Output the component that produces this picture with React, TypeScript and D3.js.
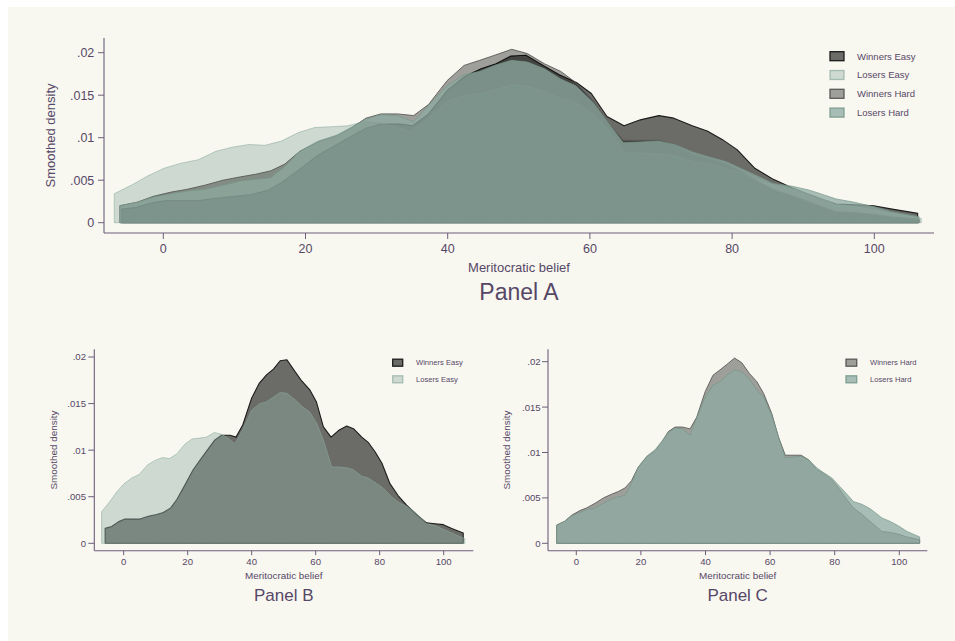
import React, { useEffect } from "react";
import * as d3 from "d3";

// ---- data ----
const winnersEasyX = [-5.8, -3.75, -1.7, 0.4, 2.5, 5.1, 7.7, 10.3, 12.4, 14.7, 16.6, 19.2, 21.7, 23.8, 25.9, 28.5, 30.6, 33.2, 35.1, 37.2, 40.0, 42.4, 44.7, 46.8, 48.9, 51.0, 53.6, 55.7, 58.1, 60.2, 62.4, 64.8, 67.1, 69.7, 71.8, 74.4, 76.5, 78.6, 80.7, 83.2, 85.8, 88.4, 91.5, 94.6, 97.3, 99.9, 102.5, 106.1];
const winnersEasyY = [0.0016, 0.0018, 0.0023, 0.0026, 0.0026, 0.0026, 0.0029, 0.0031, 0.0033, 0.0038, 0.0047, 0.0063, 0.0079, 0.0089, 0.0099, 0.0111, 0.0116, 0.0116, 0.0114, 0.0127, 0.0156, 0.0172, 0.0181, 0.0187, 0.0196, 0.0197, 0.0184, 0.0174, 0.0165, 0.0152, 0.0125, 0.0114, 0.0121, 0.0126, 0.0123, 0.0114, 0.0108, 0.0098, 0.0086, 0.0064, 0.0051, 0.0041, 0.0031, 0.0022, 0.0021, 0.0020, 0.0016, 0.0011];

const losersEasyX = [-6.9, -4.3, -2.2, 0.1, 2.5, 4.9, 7.4, 9.8, 12.1, 14.3, 16.6, 19.0, 21.3, 23.8, 25.9, 28.3, 30.6, 32.5, 34.8, 37.2, 40.0, 42.6, 44.7, 46.8, 48.9, 51.0, 53.6, 55.7, 58.1, 60.3, 62.4, 65.0, 67.0, 69.7, 71.8, 74.4, 76.5, 79.1, 81.2, 83.7, 86.3, 88.9, 91.5, 94.6, 97.3, 99.9, 102.5, 106.6];
const losersEasyY = [0.0034, 0.0045, 0.0055, 0.0064, 0.0070, 0.0074, 0.0084, 0.0089, 0.0092, 0.0091, 0.0096, 0.0106, 0.0112, 0.0113, 0.0114, 0.0119, 0.0117, 0.0113, 0.0107, 0.0122, 0.0143, 0.0150, 0.0152, 0.0157, 0.0162, 0.0161, 0.0154, 0.0147, 0.0141, 0.0129, 0.0111, 0.0082, 0.0082, 0.0081, 0.0079, 0.0072, 0.0070, 0.0064, 0.0059, 0.0050, 0.0043, 0.0039, 0.0032, 0.0021, 0.0019, 0.0015, 0.0011, 0.0005];

const hardX = [-6.1, -3.7, -1.4, 1.1, 3.2, 5.8, 8.4, 10.9, 13.0, 15.1, 17.1, 19.2, 21.8, 24.4, 26.4, 28.5, 30.6, 32.9, 35.2, 37.3, 39.9, 42.3, 44.5, 46.6, 49.0, 51.2, 53.6, 55.9, 58.0, 60.5, 62.6, 64.7, 67.3, 69.6, 71.9, 74.5, 76.5, 79.1, 81.2, 83.8, 85.8, 88.4, 91.0, 94.6, 97.2, 99.8, 102.4, 106.3];
const winnersHardY = [0.0020, 0.0024, 0.0031, 0.0036, 0.0039, 0.0044, 0.0050, 0.0054, 0.0057, 0.0061, 0.0069, 0.0084, 0.0095, 0.0102, 0.0111, 0.0123, 0.0128, 0.0128, 0.0126, 0.0139, 0.0167, 0.0185, 0.0191, 0.0197, 0.0204, 0.0199, 0.0187, 0.0178, 0.0165, 0.0143, 0.0117, 0.0097, 0.0097, 0.0097, 0.0092, 0.0081, 0.0077, 0.0070, 0.0061, 0.0048, 0.0039, 0.0032, 0.0024, 0.0013, 0.0012, 0.0010, 0.0007, 0.0004];
const losersHardY = [0.0020, 0.0024, 0.0030, 0.0034, 0.0037, 0.0039, 0.0044, 0.0049, 0.0051, 0.0053, 0.0066, 0.0084, 0.0096, 0.0103, 0.0112, 0.0122, 0.0127, 0.0126, 0.0119, 0.0138, 0.0161, 0.0174, 0.0178, 0.0185, 0.0191, 0.0189, 0.0181, 0.0169, 0.0161, 0.0141, 0.0117, 0.0094, 0.0095, 0.0096, 0.0092, 0.0083, 0.0078, 0.0072, 0.0064, 0.0054, 0.0046, 0.0043, 0.0038, 0.0028, 0.0024, 0.0019, 0.0013, 0.0007];

const seriesNames = ["Winners Easy", "Losers Easy", "Winners Hard", "Losers Hard"];
const yTickValues = [0, 0.005, 0.01, 0.015, 0.02];
const yTickLabels = ["0", ".005", ".01", ".015", ".02"];
const xTickValues = [0, 20, 40, 60, 80, 100];
const xTitle = "Meritocratic belief";
const yTitle = "Smoothed density";
const panelTitles = ["Panel A", "Panel B", "Panel C"];

// ---- styles ----
const BG = "#f8f8f1";
const TEXT = "#574766";
const AXIS = "#6d5d7b";
const FONT = "'Liberation Sans', Arial, sans-serif";

const seriesStyle = [
  { fill: "rgba(0,0,0,0.57)", stroke: "#1c1c1c", sw: 1.1 },
  { fill: "rgba(146,174,165,0.42)", stroke: "rgba(140,170,158,0.7)", sw: 0.8 },
  { fill: "rgba(0,0,0,0.36)", stroke: "#5a5a58", sw: 0.9 },
  { fill: "rgba(141,169,160,0.75)", stroke: "rgba(120,152,140,0.9)", sw: 0.8 },
];

const allSeries = [
  { name: seriesNames[0], xs: winnersEasyX, ys: winnersEasyY, style: seriesStyle[0] },
  { name: seriesNames[1], xs: losersEasyX, ys: losersEasyY, style: seriesStyle[1] },
  { name: seriesNames[2], xs: hardX, ys: winnersHardY, style: seriesStyle[2] },
  { name: seriesNames[3], xs: hardX, ys: losersHardY, style: seriesStyle[3] },
];

type Cfg = {
  xr: [number, number];
  yr: [number, number];
  axisL: number; axisR: number; axisT: number; axisB: number;
  yTickLen: number; xTickLen: number;
  tickFont: number; titleFont: number; panelFont: number; legendFont: number;
  yLabelX: number; xLabelY: number; xTitleY: number; panelY: number;
  yTitleX: number;
  legend: { x: number; w: number; h: number; y0: number; dy: number; tx: number };
};

function Panel({ cfg, series, title }: { cfg: Cfg; series: typeof allSeries; title: string }) {
  const xs = d3.scaleLinear().domain([0, 100]).range(cfg.xr);
  const ys = d3.scaleLinear().domain([0, 0.02]).range(cfg.yr);
  const area = d3
    .area<[number, number]>()
    .x((d) => xs(d[0]))
    .y0(ys(0))
    .y1((d) => ys(d[1]));
  const cx = (cfg.axisL + cfg.axisR) / 2;
  const cy = (cfg.axisT + cfg.axisB) / 2;
  const tickCap = cfg.tickFont * 0.716;
  return (
    <g fontFamily={FONT}>
      {series.map((s, i) => {
        const pts = s.xs.map((x, j) => [x, s.ys[j]] as [number, number]);
        return (
          <path key={i} d={area(pts) || ""} fill={s.style.fill} stroke={s.style.stroke}
            strokeWidth={s.style.sw} strokeLinejoin="round" />
        );
      })}
      <line x1={cfg.axisL} x2={cfg.axisL} y1={cfg.axisT} y2={cfg.axisB} stroke={AXIS} strokeWidth={1.1} />
      <line x1={cfg.axisL} x2={cfg.axisR} y1={cfg.axisB} y2={cfg.axisB} stroke={AXIS} strokeWidth={1.1} />
      {yTickValues.map((v, i) => (
        <g key={"y" + i}>
          <line x1={cfg.axisL - cfg.yTickLen} x2={cfg.axisL} y1={ys(v)} y2={ys(v)} stroke={AXIS} strokeWidth={1} />
          <text x={cfg.yLabelX} y={ys(v) + tickCap / 2} textAnchor="end" fontSize={cfg.tickFont} fill={TEXT}>
            {yTickLabels[i]}
          </text>
        </g>
      ))}
      {xTickValues.map((v, i) => (
        <g key={"x" + i}>
          <line x1={xs(v)} x2={xs(v)} y1={cfg.axisB} y2={cfg.axisB + cfg.xTickLen} stroke={AXIS} strokeWidth={1} />
          <text x={xs(v)} y={cfg.xLabelY} textAnchor="middle" fontSize={cfg.tickFont} fill={TEXT}>
            {String(v)}
          </text>
        </g>
      ))}
      <text x={cx} y={cfg.xTitleY} textAnchor="middle" fontSize={cfg.titleFont} fill={TEXT}>
        {xTitle}
      </text>
      <text transform={`translate(${cfg.yTitleX},${cy}) rotate(-90)`} textAnchor="middle" fontSize={cfg.titleFont} fill={TEXT}>
        {yTitle}
      </text>
      <text x={cx} y={cfg.panelY} textAnchor="middle" fontSize={cfg.panelFont} fill={TEXT}>
        {title}
      </text>
      {series.map((s, i) => {
        const yc = cfg.legend.y0 + i * cfg.legend.dy;
        return (
          <g key={"l" + i}>
            <rect x={cfg.legend.x} y={yc - cfg.legend.h / 2} width={cfg.legend.w} height={cfg.legend.h}
              fill={s.style.fill} stroke={s.style.stroke} strokeWidth={1.3} />
            <text x={cfg.legend.tx} y={yc + (cfg.legendFont * 0.716) / 2} fontSize={cfg.legendFont} fill={TEXT}>
              {s.name}
            </text>
          </g>
        );
      })}
    </g>
  );
}

const cfgA: Cfg = {
  xr: [163.3, 874.3], yr: [222.7, 52.7],
  axisL: 104, axisR: 934, axisT: 38, axisB: 233,
  yTickLen: 6, xTickLen: 6,
  tickFont: 12.5, titleFont: 13, panelFont: 23, legendFont: 9.5,
  yLabelX: 94.3, xLabelY: 252.5, xTitleY: 271.5, panelY: 300,
  yTitleX: 54.5,
  legend: { x: 830, w: 14, h: 9, y0: 56.2, dy: 18.8, tx: 857 },
};
const cfgB: Cfg = {
  xr: [123.7, 443.7], yr: [543.3, 357],
  axisL: 94.3, axisR: 473.3, axisT: 349.3, axisB: 550.7,
  yTickLen: 6, xTickLen: 4.5,
  tickFont: 9.6, titleFont: 9.9, panelFont: 17, legendFont: 7.6,
  yLabelX: 86, xLabelY: 565, xTitleY: 579.3, panelY: 600.5,
  yTitleX: 56.5,
  legend: { x: 392.7, w: 10, h: 7, y0: 362.7, dy: 16.6, tx: 416 },
};
const cfgC: Cfg = {
  xr: [576.3, 899.3], yr: [543.3, 361.7],
  axisL: 548, axisR: 927.3, axisT: 349.3, axisB: 550.7,
  yTickLen: 6, xTickLen: 4.5,
  tickFont: 9.6, titleFont: 9.9, panelFont: 17, legendFont: 7.6,
  yLabelX: 540.7, xLabelY: 565, xTitleY: 579.3, panelY: 600.5,
  yTitleX: 510.2,
  legend: { x: 846, w: 10.7, h: 7, y0: 362.7, dy: 16.6, tx: 870 },
};

export default function App() {
  useEffect(() => {
    document.documentElement.style.overflow = "hidden";
    document.body.style.overflow = "hidden";
  }, []);
  return (
    <svg width={947} height={634} style={{ position: "fixed", left: 8, top: 7, display: "block" }}>
      <rect x={0} y={0} width={947} height={634} fill={BG} />
      <g transform="translate(-8,-7)">
        <Panel cfg={cfgA} series={allSeries} title={panelTitles[0]} />
        <Panel cfg={cfgB} series={[allSeries[0], allSeries[1]]} title={panelTitles[1]} />
        <Panel cfg={cfgC} series={[allSeries[2], allSeries[3]]} title={panelTitles[2]} />
      </g>
    </svg>
  );
}
